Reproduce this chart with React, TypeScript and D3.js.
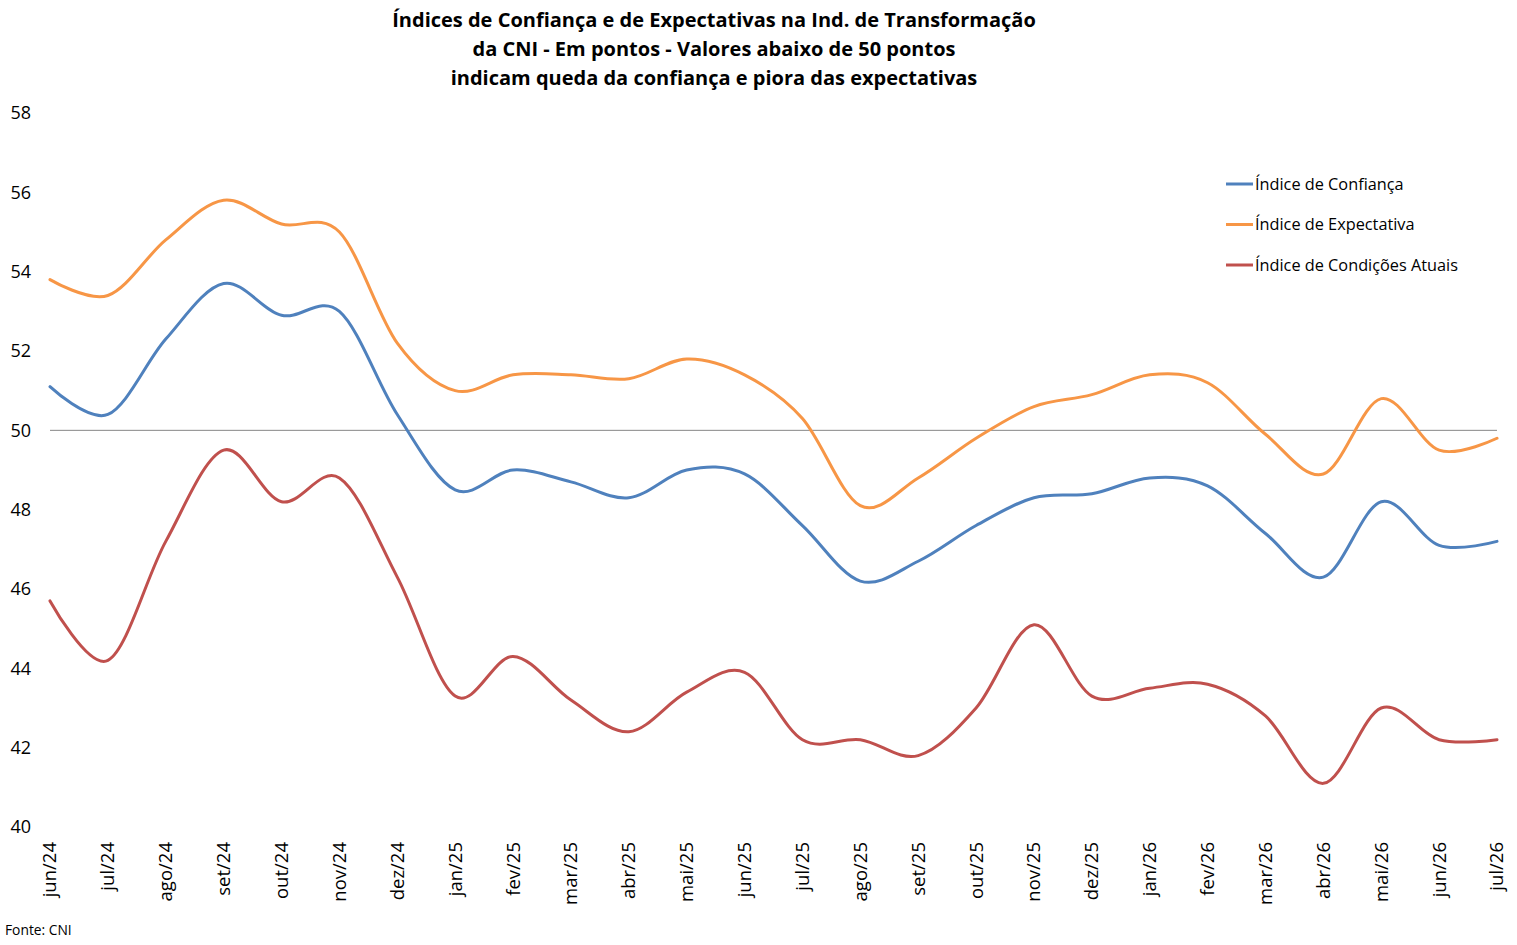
import React from 'react';
import * as d3 from 'd3';

// Categories (months) and series values
const months = [
  'jun/24', 'jul/24', 'ago/24', 'set/24', 'out/24', 'nov/24', 'dez/24',
  'jan/25', 'fev/25', 'mar/25', 'abr/25', 'mai/25', 'jun/25', 'jul/25',
  'ago/25', 'set/25', 'out/25', 'nov/25', 'dez/25', 'jan/26', 'fev/26',
  'mar/26', 'abr/26', 'mai/26', 'jun/26', 'jul/26',
];

const confianca = [
  51.1, 50.4, 52.3, 53.7, 52.9, 53.0, 50.4, 48.5, 49.0, 48.7, 48.3, 49.0, 48.9,
  47.6, 46.2, 46.7, 47.6, 48.3, 48.4, 48.8, 48.6, 47.4, 46.3, 48.2, 47.1, 47.2,
];
const expectativa = [
  53.8, 53.4, 54.8, 55.8, 55.2, 55.0, 52.2, 51.0, 51.4, 51.4, 51.3, 51.8, 51.4,
  50.3, 48.1, 48.8, 49.8, 50.6, 50.9, 51.4, 51.2, 49.9, 48.9, 50.8, 49.5, 49.8,
];
const condicoes = [
  45.7, 44.2, 47.2, 49.5, 48.2, 48.8, 46.3, 43.3, 44.3, 43.2, 42.4, 43.4, 43.9,
  42.2, 42.2, 41.8, 43.0, 45.1, 43.3, 43.5, 43.6, 42.8, 41.1, 43.0, 42.2, 42.2,
];
const yTicks = [40, 42, 44, 46, 48, 50, 52, 54, 56, 58];
const titleLines = [
  'Índices de Confiança e de Expectativas na Ind. de Transformação',
  'da CNI - Em pontos - Valores abaixo de 50 pontos',
  'indicam queda da confiança e piora das expectativas',
];

const series = [
  { name: 'Índice de Confiança', values: confianca, color: '#4F81BD' },
  { name: 'Índice de Expectativa', values: expectativa, color: '#F79646' },
  { name: 'Índice de Condições Atuais', values: condicoes, color: '#C0504D' },
];

const W = 1517;
const H = 945;
const FONT = "'Open Sans', 'Noto Sans', sans-serif";

export default function App() {
  const x = d3.scalePoint<string>().domain(months).range([50, 1497]);
  const y = d3.scaleLinear().domain([40, 58]).range([827, 113]);

  // Excel-like smoothed line
  const line = d3.line<number>()
    .x((_, i) => x(months[i]) as number)
    .y(d => y(d))
    .curve(d3.curveCardinal.tension(0));

  return (
    <div style={{ position: 'absolute', left: 0, top: 0 }}>
      <svg width={W} height={H} viewBox={`0 0 ${W} ${H}`} style={{ display: 'block', background: '#fff' }}>
        {/* title */}
        {titleLines.map((t, i) => (
          <text key={t} x={714} y={20 + i * 29} dy="0.35em" textAnchor="middle"
            fontFamily={FONT} fontSize={20} fontWeight="bold" fill="#000">{t}</text>
        ))}

        {/* y axis labels */}
        {yTicks.map(t => (
          <text key={t} x={31} y={y(t)} dy="0.35em" textAnchor="end"
            fontFamily={FONT} fontSize={18} fill="#000">{t}</text>
        ))}

        {/* x axis labels */}
        {months.map(m => (
          <text key={m} transform={`translate(${x(m)},842) rotate(-90)`} dy="0.35em"
            textAnchor="end" fontFamily={FONT} fontSize={18.5} fill="#000">{m}</text>
        ))}

        {/* reference line at 50 */}
        <line x1={x(months[0])} x2={x(months[months.length - 1])}
          y1={y(50)} y2={y(50)} stroke="#868686" strokeWidth={1} />

        {/* series */}
        {series.map(s => (
          <path key={s.name} d={line(s.values) || ''} fill="none" stroke={s.color}
            strokeWidth={3} strokeLinejoin="round" strokeLinecap="round" />
        ))}

        {/* legend */}
        {series.map((s, i) => (
          <g key={s.name} transform={`translate(1226,${184 + i * 40.5})`}>
            <line x1={0} x2={27} y1={0} y2={0} stroke={s.color} strokeWidth={3} />
            <text x={29} y={0} dy="0.35em" fontFamily={FONT} fontSize={16.3} fill="#000">{s.name}</text>
          </g>
        ))}

        <text x={5} y={930} dy="0.35em" fontFamily={FONT} fontSize={13.8} fill="#000">Fonte: CNI</text>
      </svg>
    </div>
  );
}
